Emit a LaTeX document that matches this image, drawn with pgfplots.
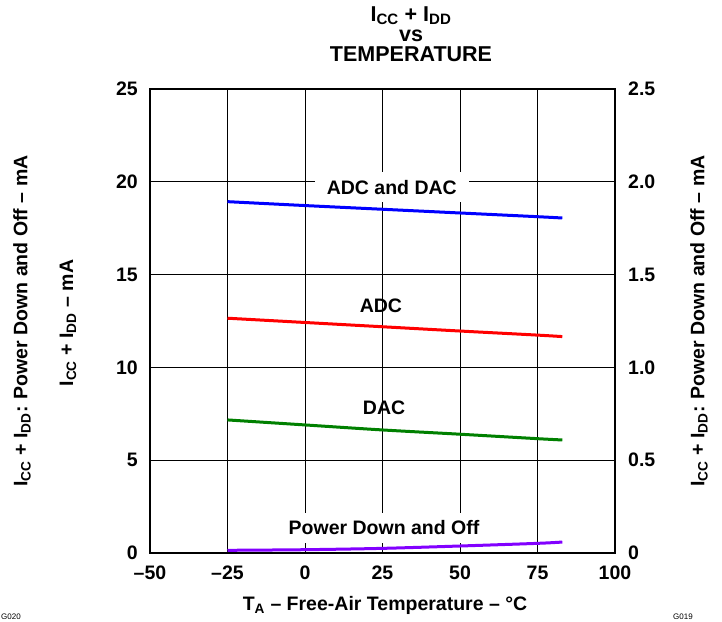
\documentclass[border=0pt]{standalone}
\usepackage{fontspec}
\setmainfont{Liberation Sans}
\usepackage{pgfplots}
\pgfplotsset{compat=1.18}

\definecolor{pdviolet}{RGB}{130,0,255}
\definecolor{dacgreen}{RGB}{0,128,0}

\newcommand{\Icc}{I\textsubscript{CC}}
\newcommand{\Idd}{I\textsubscript{DD}}
\newcommand{\bigbf}{\fontsize{19.5}{20.5}\selectfont\bfseries}

\pgfplotsset{
  base/.style={
    scale only axis, width=465pt, height=464pt,
    xmin=-50, xmax=100,
    major tick length=0pt,
    tick label style={font=\bigbf},
    /pgf/number format/assume math mode=true,
    axis line style={line width=2pt},
  },
  curve/.style={line width=3pt, smooth, no marks},
}

\begin{document}
\begin{tikzpicture}[font=\bigbf]
\useasboundingbox (-150pt,-68pt) rectangle (572pt,553pt);

% left scale: operating currents
\begin{axis}[base,
  ymin=0, ymax=25,
  xtick={-50,-25,0,25,50,75,100},
  xticklabels={–50,–25,0,25,50,75,100},
  ytick={0,5,10,15,20,25},
  ytick pos=left, xtick pos=bottom,
  grid=major, grid style={black, line width=0.9pt},
  yticklabel style={anchor=east, inner sep=0pt, xshift=-12pt},
  xticklabel style={anchor=north, inner sep=0pt, yshift=-13pt},
]
  \addplot[curve, blue] coordinates {
    (-25,18.93) (0,18.72) (25,18.52) (50,18.32) (75,18.12) (83,18.05)
  };
  \addplot[curve, red] coordinates {
    (-25,12.65) (0,12.42) (25,12.19) (50,11.96) (75,11.74) (83,11.66)
  };
  \addplot[curve, dacgreen] coordinates {
    (-25,7.17) (0,6.90) (25,6.63) (50,6.40) (75,6.16) (83,6.09)
  };
  \node[fill=white, inner xsep=12pt, inner ysep=8pt, text height=14pt, text depth=0pt]
    at (axis cs:28,19.7) {ADC and DAC};
  \node at (axis cs:24.5,13.3) {ADC};
  \node at (axis cs:25.5,7.8) {DAC};
  \node[fill=white, inner xsep=2pt, inner ysep=8pt, text height=14pt, text depth=0pt]
    at (axis cs:25.5,1.35) {Power Down and Off};
\end{axis}

% right scale: power down and off
\begin{axis}[base,
  ymin=0, ymax=2.5,
  axis x line=none, axis y line*=right,
  ytick={0,0.5,1,1.5,2,2.5},
  yticklabels={0,0.5,1.0,1.5,2.0,2.5},
  yticklabel style={anchor=west, inner sep=0pt, xshift=13pt},
]
  \addplot[curve, pdviolet] coordinates {
    (-25,0.0145) (0,0.0178) (25,0.025) (50,0.0377) (75,0.052) (83,0.059)
  };
\end{axis}

\node[align=center, font=\fontsize{21.5}{20}\selectfont\bfseries] at (261pt,519pt)
  {\Icc{} + \Idd\\vs\\TEMPERATURE};
\node[rotate=90] at (-128pt,232pt) {\Icc{} + \Idd: Power Down and Off – mA};
\node[rotate=90] at (-82pt,230pt) {\Icc{} + \Idd{} – mA};
\node[rotate=90] at (549pt,232pt) {\Icc{} + \Idd: Power Down and Off – mA};
\node at (235pt,-52pt) {T\textsubscript{A} – Free-Air Temperature – °C};
\node[font=\fontsize{8}{9}\selectfont, anchor=base west, inner sep=0pt] at (-149pt,-66pt) {G020};
\node[font=\fontsize{8}{9}\selectfont, anchor=base west, inner sep=0pt] at (523pt,-66pt) {G019};
\end{tikzpicture}
\end{document}
